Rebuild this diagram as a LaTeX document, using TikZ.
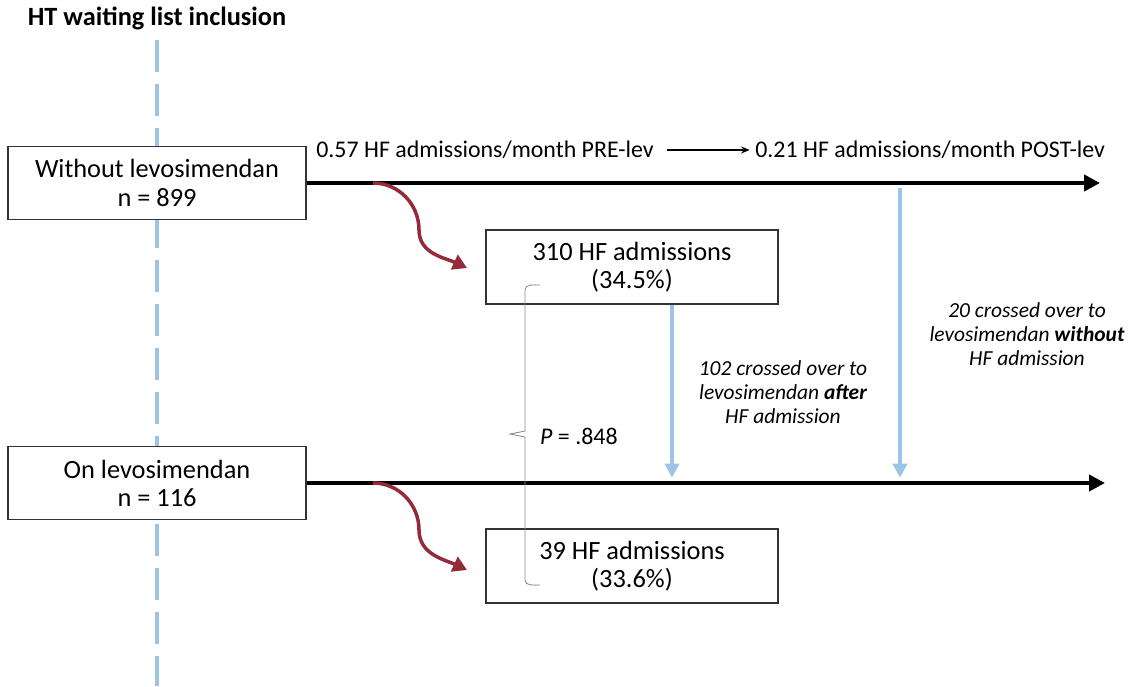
\documentclass[tikz,border=0pt]{standalone}
\usepackage{fontspec}
\setmainfont{Carlito}
\usetikzlibrary{arrows.meta}
\definecolor{listblue}{RGB}{157,195,230}
\definecolor{eventred}{RGB}{149,42,58}
\definecolor{bracegray}{RGB}{140,140,140}

\begin{document}
\begin{tikzpicture}[x=0.02cm, y=-0.02cm,
    every node/.style={font=\fontsize{15}{16}\selectfont},
    box/.style={rectangle, draw=black!80, line width=0.8pt, fill=white, align=center, minimum width=5.96cm, minimum height=1.46cm},
    eventbox/.style={box, minimum width=5.84cm, minimum height=1.48cm},
    timeline/.style={line width=2.3pt, -{Triangle[length=9pt, width=9pt]}},
    waitline/.style={listblue, line width=2.2pt, dash pattern=on 0.64cm off 0.24cm},
    crossarrow/.style={listblue, line width=2.2pt, -{Triangle[length=8pt, width=8pt]}},
    eventarrow/.style={eventred, line width=2pt, -{Triangle[length=8pt, width=9pt]}},
    ratelabel/.style={anchor=west, inner sep=0pt, font=\fontsize{13.6}{15}\selectfont},
    crosslabel/.style={align=center, font=\fontsize{12.2}{13.6}\selectfont\itshape}]
    \useasboundingbox (0,0) rectangle (1135,686);

    % inclusion line
    \node[font=\fontsize{15}{16}\selectfont\bfseries] (title) at (157,18) {HT waiting list inclusion};
    \draw[waitline] (157,40) -- (157,686);

    % groups
    \node[box] (without) at (157,183) {Without levosimendan\\n = 899};
    \node[box] (onlev) at (157,483) {On levosimendan\\n = 116};
    \node[eventbox] (hfwithout) at (632,267) {310 HF admissions\\(34.5\%)};
    \node[eventbox] (hfon) at (632,566) {39 HF admissions\\(33.6\%)};

    \coordinate (endwithout) at (1100,183);
    \coordinate (endon) at (1105,483);
    \draw[timeline] (without.east) -- (endwithout);
    \draw[timeline] (onlev.east) -- (endon);

    % rates
    \node[ratelabel] (pre) at (316,150) {0.57 HF admissions/month PRE-lev};
    \node[ratelabel] (post) at (755,150) {0.21 HF admissions/month POST-lev};
    \draw[-{Stealth[length=5pt, width=4pt]}, line width=0.6pt, shorten <=7pt, shorten >=3pt] (pre.east) -- (post.west);

    % HF admissions
    \coordinate (splitwithout) at (373,183);
    \coordinate (spliton) at (373,483);
    \draw[eventarrow] (splitwithout) to[out=0, in=90] (419,230) to[out=-90, in=155] (467,268);
    \draw[eventarrow] (spliton) to[out=0, in=90] (419,530) to[out=-90, in=155] (467,570);

    % cross-overs
    \coordinate (crossafter) at (672,483);
    \coordinate (crosstop) at (900,183);
    \coordinate (crossbot) at (900,483);
    \draw[crossarrow, shorten >=3pt] (hfwithout.south -| crossafter) -- (crossafter);
    \draw[crossarrow, shorten <=3pt, shorten >=3pt] (crosstop) -- (crossbot);
    \node[crosslabel] (afterlabel) at (783,392) {102 crossed over to\\levosimendan \textbf{after}\\HF admission};
    \node[crosslabel] (withoutlabel) at (1027,334) {20 crossed over to\\levosimendan \textbf{without}\\HF admission};

    % comparison
    \draw[bracegray, line width=0.5pt] (540,285) to[out=180, in=90] (525,290) -- (525,431)
        -- (510,434) -- (525,437) -- (525,580) to[out=-90, in=180] (540,585);
    \node[anchor=west, font=\fontsize{13.6}{15}\selectfont] (pvalue) at (534,436) {\textit{P} = .848};
\end{tikzpicture}
\end{document}
